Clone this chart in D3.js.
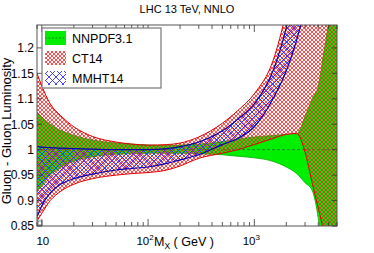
<!DOCTYPE html>
<html lang="en">
<head>
<meta charset="UTF-8">
<title>Gluon - Gluon Luminosity</title>
<style>
    body { margin: 0; background: #fff; }
    text { font-family: "Liberation Sans", Arial, sans-serif; fill: #000; }
</style>
</head>
<body>
<script src="https://cdn.jsdelivr.net/npm/d3@7/dist/d3.min.js"></script>
<script>
    // invariant mass grid (GeV) and luminosity ratios to NNPDF3.1 central
    const massGeV = [9, 10, 12, 15, 20, 30, 50, 70, 100, 150, 200, 300, 500, 700, 1000, 1500, 2000, 2500, 3000, 3500, 4000, 4500, 5000, 6000];

    const nnpdfUp = [1.074, 1.064, 1.05, 1.038, 1.028, 1.019, 1.013, 1.011, 1.009, 1.008, 1.009, 1.011, 1.016, 1.021, 1.025, 1.028, 1.030, 1.031, 1.065, 1.10, 1.125, 1.19, 1.25, 1.40];
    const nnpdfLo = [0.918, 0.93, 0.95, 0.965, 0.977, 0.986, 0.991, 0.992, 0.993, 0.993, 0.993, 0.992, 0.990, 0.987, 0.984, 0.977, 0.966, 0.953, 0.935, 0.92, 0.865, 0.78, 0.70, 0.55];

    const ct14Up = [1.15, 1.125, 1.09, 1.067, 1.045, 1.026, 1.015, 1.011, 1.009, 1.010, 1.013, 1.025, 1.052, 1.077, 1.11, 1.175, 1.27, 1.36, 1.45, 1.55, 1.65, 1.75, 1.85, 2.0];
    const ct14Lo = [0.86, 0.875, 0.9, 0.918, 0.932, 0.943, 0.95, 0.953, 0.955, 0.96, 0.968, 0.983, 0.993, 1.0, 1.01, 1.022, 1.03, 1.032, 0.995, 0.935, 0.885, 0.84, 0.80, 0.72];

    const mmhtUp = [1.006, 1.005, 1.004, 1.003, 1.002, 1.001, 1.0, 1.0, 1.0, 1.002, 1.006, 1.015, 1.037, 1.06, 1.09, 1.155, 1.24, 1.33, 1.42, 1.5, 1.6, 1.7, 1.8, 1.9];
    const mmhtLo = [0.868, 0.89, 0.915, 0.932, 0.943, 0.952, 0.96, 0.963, 0.966, 0.973, 0.98, 0.99, 1.01, 1.022, 1.045, 1.10, 1.155, 1.215, 1.28, 1.35, 1.42, 1.5, 1.6, 1.7];

    const yTicks = [0.85, 0.9, 0.95, 1, 1.05, 1.1, 1.15, 1.2];
    const xMajor = [10, 100, 1000];
    const xMinor = [9, 20, 30, 40, 50, 60, 70, 80, 90, 200, 300, 400, 500, 600, 700, 800, 900, 2000, 3000, 4000, 5000, 6000];
    const legendNames = ["NNPDF3.1", "CT14", "MMHT14"];

    var width = 374, height = 253;
    var plot = {left: 37, right: 337, top: 25, bottom: 226};

    var x = d3.scaleLog().domain([9, 6000]).range([plot.left, plot.right]);
    var y = d3.scaleLinear().domain([0.85, 1.245]).range([plot.bottom, plot.top]);

    var svg = d3.select("body").append("svg")
        .attr("width", width)
        .attr("height", height);

    var defs = svg.append("defs");
    defs.append("clipPath").attr("id", "clip")
        .append("rect")
        .attr("x", plot.left).attr("y", plot.top)
        .attr("width", plot.right - plot.left).attr("height", plot.bottom - plot.top);

    // hatch patterns
    function crossHatch(id, size, color, lw) {
        var p = defs.append("pattern").attr("id", id)
            .attr("patternUnits", "userSpaceOnUse")
            .attr("width", size).attr("height", size);
        p.append("path")
            .attr("d", `M0,0L${size},${size}M0,${size}L${size},0`)
            .attr("stroke", color).attr("stroke-width", lw).attr("fill", "none");
    }
    crossHatch("hatchCT", 4, "#ff2020", 0.8);
    crossHatch("hatchMM", 7, "#3030ff", 0.9);

    var rows = massGeV.map((m, i) => ({m: m, nu: nnpdfUp[i], nl: nnpdfLo[i], cu: ct14Up[i], cl: ct14Lo[i], mu: mmhtUp[i], ml: mmhtLo[i]}));

    var g = svg.append("g").attr("clip-path", "url(#clip)");

    function band(up, lo, fill, edge, ew) {
        var area = d3.area().curve(d3.curveMonotoneX)
            .x(d => x(d.m)).y0(d => y(d[lo])).y1(d => y(d[up]));
        var line = k => d3.line().curve(d3.curveMonotoneX).x(d => x(d.m)).y(d => y(d[k]));
        g.append("path").datum(rows).attr("d", area).attr("fill", fill).attr("stroke", "none");
        g.append("path").datum(rows).attr("d", line(up)).attr("fill", "none").attr("stroke", edge).attr("stroke-width", ew);
        g.append("path").datum(rows).attr("d", line(lo)).attr("fill", "none").attr("stroke", edge).attr("stroke-width", ew);
    }

    band("nu", "nl", "#00ee00", "#00b000", 0.8);
    // NNPDF3.1 central value
    g.append("line")
        .attr("x1", plot.left).attr("x2", plot.right)
        .attr("y1", y(1)).attr("y2", y(1))
        .attr("stroke", "#2a6a2a").attr("stroke-width", 0.8).attr("stroke-dasharray", "3,2");
    band("cu", "cl", "url(#hatchCT)", "#e00000", 1);
    band("mu", "ml", "url(#hatchMM)", "#0000b0", 1.2);

    // frame
    svg.append("rect")
        .attr("x", plot.left).attr("y", plot.top)
        .attr("width", plot.right - plot.left).attr("height", plot.bottom - plot.top)
        .attr("fill", "none").attr("stroke", "#555").attr("stroke-width", 1);

    // x axis ticks (inward, bottom and top)
    var ax = svg.append("g").attr("stroke", "#333").attr("stroke-width", 0.8);
    [[xMajor, 7], [xMinor, 4]].forEach(function (t) {
        ax.selectAll(null).data(t[0]).join("line")
            .attr("x1", d => x(d)).attr("x2", d => x(d))
            .attr("y1", plot.bottom).attr("y2", plot.bottom - t[1]);
        ax.selectAll(null).data(t[0]).join("line")
            .attr("x1", d => x(d)).attr("x2", d => x(d))
            .attr("y1", plot.top).attr("y2", plot.top + t[1]);
    });
    // y axis ticks
    ax.selectAll(null).data(yTicks).join("line")
        .attr("x1", plot.left).attr("x2", plot.left + 5)
        .attr("y1", d => y(d)).attr("y2", d => y(d));
    ax.selectAll(null).data(yTicks).join("line")
        .attr("x1", plot.right).attr("x2", plot.right - 5)
        .attr("y1", d => y(d)).attr("y2", d => y(d));

    // small marker at the axis origin
    svg.append("rect").attr("x", plot.left + 1).attr("y", plot.bottom - 5)
        .attr("width", 4).attr("height", 4)
        .attr("fill", "none").attr("stroke", "#444").attr("stroke-width", 0.7);

    // y tick labels
    svg.append("g").selectAll("text").data(yTicks).join("text")
        .attr("x", plot.left - 3).attr("y", d => y(d) + 4.3)
        .attr("text-anchor", "end").attr("font-size", 12)
        .text(d => d3.format("")(d));

    // x tick labels 10, 10^2, 10^3
    var xl = svg.append("g");
    xl.selectAll("text").data(xMajor).join("text")
        .attr("x", (d, i) => x(d) + (i == 0 ? 1 : -3))
        .attr("y", 245)
        .attr("text-anchor", "middle").attr("font-size", 11.5)
        .each(function (d, i) {
            var t = d3.select(this);
            t.append("tspan").text("10");
            if (i > 0) t.append("tspan").attr("font-size", 8).attr("dy", -5).text(Math.round(Math.log10(d)));
        });

    // axis titles
    var xt = svg.append("text").attr("x", 154).attr("y", 246).attr("font-size", 12.5);
    xt.append("tspan").text("M");
    xt.append("tspan").attr("font-size", 8.5).attr("dy", 3).text("X");
    xt.append("tspan").attr("dy", -3).text(" ( GeV )");

    svg.append("text")
        .attr("transform", "translate(11,131)rotate(-90)")
        .attr("text-anchor", "middle").attr("font-size", 13)
        .text("Gluon - Gluon Luminosity");

    svg.append("text")
        .attr("x", 187).attr("y", 13)
        .attr("text-anchor", "middle").attr("font-size", 11)
        .text("LHC 13 TeV, NNLO");

    // legend
    var lg = svg.append("g");
    lg.append("rect").attr("x", 42).attr("y", 28).attr("width", 119).attr("height", 60)
        .attr("fill", "#fff").attr("stroke", "#777").attr("stroke-width", 1.2);
    var swFill = ["#00ee00", "url(#hatchCT)", "url(#hatchMM)"];
    lg.selectAll("rect.sw").data(legendNames).join("rect").attr("class", "sw")
        .attr("x", 45).attr("y", (d, i) => 31 + i * 20)
        .attr("width", 21).attr("height", 14)
        .attr("fill", (d, i) => swFill[i]);
    lg.append("line").attr("x1", 45).attr("x2", 66).attr("y1", 38).attr("y2", 38)
        .attr("stroke", "#2a6a2a").attr("stroke-width", 0.8).attr("stroke-dasharray", "2,1.5");
    lg.selectAll("text").data(legendNames).join("text")
        .attr("x", 72).attr("y", (d, i) => 42.5 + i * 20)
        .attr("font-size", 12.5)
        .text(d => d);
</script>
</body>
</html>
